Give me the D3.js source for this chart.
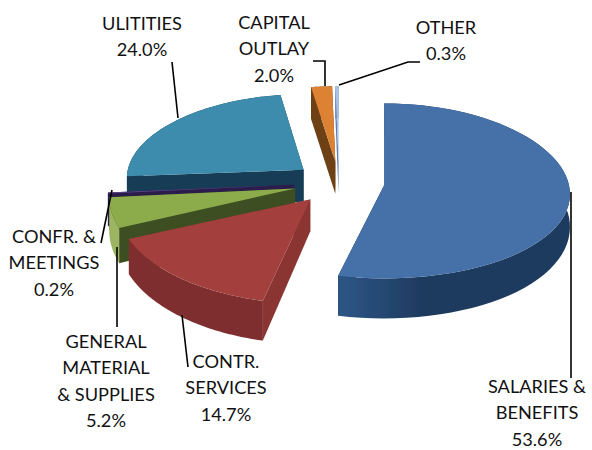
<!DOCTYPE html>
<html lang="en">
<head>
  <meta charset="UTF-8">
  <title>Budget pie</title>
  <style>
    html, body { margin: 0; padding: 0; background: #fff; }
    text { font-family: Lato, "Open Sans", sans-serif; font-size: 18.2px; fill: #111; text-anchor: middle; }
  </style>
</head>
<body>
  <script src="https://cdn.jsdelivr.net/npm/d3@7/dist/d3.min.js"></script>
  <script>
    // values, clockwise from 12 o'clock
    const categories = ['SALARIES & BENEFITS', 'CONTR. SERVICES', 'GENERAL MATERIAL & SUPPLIES', 'CONFR. & MEETINGS', 'ULITITIES', 'CAPITAL OUTLAY', 'OTHER'];
    const values = [53.6, 14.7, 5.2, 0.2, 24.0, 2.0, 0.3];
    const valueLabels = ['53.6%', '14.7%', '5.2%', '0.2%', '24.0%', '2.0%', '0.3%'];
    const topColors = ['#4470a8', '#a33f3d', '#8cab4c', '#5f4388', '#3c8cad', '#dd8133', '#a9c1e2'];
    const wallColors = ['#1f3c62', '#7e2f2e', '#9cb563', '#2c1c4c', '#163d54', '#6d4019', '#5f7fae'];
    const cutColors = ['#16304f', '#8a3533', '#3d5020', '#2c1c4c', '#163d54', '#6d4019', '#5f7fae'];

    const width = 592, height = 450;
    const cx = 339, cy = 183;      // centre before explosion
    const rx = 185, ryFar = 82;    // ellipse radius sideways, and towards the back
    const perspX = 0.1;            // pushes the widest point below the apex
    const perspY = [0.063, 0.12, 0.12, 0.12, 0.063, 0.063, 0.063]; // near side bigger, per slice
    const scaleX = [1, 1.03, 1, 1, 0.95, 1, 1];
    const scaleY = [1, 1, 1, 1, 0.92, 0.92, 0.92]; // back slices come out flatter
    const explode = 0.245;
    const depthSide = 32, depthFront = 40;

    // wrapped text of each label + where it sits
    const labelLines = [
      { i: 0, x: 537, y: 393, lines: ['SALARIES &', 'BENEFITS'] },
      { i: 1, x: 226, y: 368, lines: ['CONTR.', 'SERVICES'] },
      { i: 2, x: 106, y: 348, lines: ['GENERAL', 'MATERIAL', '& SUPPLIES'] },
      { i: 3, x: 54, y: 243, lines: ['CONFR. &', 'MEETINGS'] },
      { i: 4, x: 142, y: 30, lines: ['ULITITIES'] },
      { i: 5, x: 274, y: 29, lines: ['CAPITAL', 'OUTLAY'] },
      { i: 6, x: 446, y: 34, lines: ['OTHER'] }
    ];
    const leaders = [
      [[571, 192], [571, 378]],
      [[182, 315], [188, 367]],
      [[117, 247], [117, 327]],
      [[112, 190], [101, 243]],
      [[172, 62], [178, 118]],
      [[313, 61], [325, 61], [325, 86]],
      [[420, 62], [408, 62], [339, 85]]
    ];

    const svg = d3.select('body').append('svg').attr('width', width).attr('height', height);
    const defs = svg.append('defs');
    defs.append('filter').attr('id', 'soft').append('feGaussianBlur').attr('stdDeviation', 0.45);

    const blueWall = defs.append('linearGradient').attr('id', 'blue-wall')
      .attr('gradientUnits', 'userSpaceOnUse').attr('x1', 346).attr('x2', 570).attr('y1', 0).attr('y2', 0);
    blueWall.append('stop').attr('offset', 0).attr('stop-color', '#2c5483');
    blueWall.append('stop').attr('offset', 0.35).attr('stop-color', '#1e3a5e');
    blueWall.append('stop').attr('offset', 1).attr('stop-color', '#1d3a5f');

    const pieData = d3.pie().sort(null)(values);
    const line = d3.line();

    // unit circle -> screen, angle clockwise from top
    function project(a, apex, i) {
      const u = Math.sin(a), v = Math.cos(a);
      const ky = perspY[i];
      const ry = ryFar * (1 + ky);
      return [
        apex[0] + scaleX[i] * rx * u / (1 + perspX * v),
        apex[1] - scaleY[i] * ry * v / (1 + ky * v)
      ];
    }
    // wall gets taller towards the viewer
    const wallDepth = a => depthSide + (depthFront - depthSide) * Math.max(0, -Math.cos(a));

    const pie = svg.append('g').attr('filter', 'url(#soft)');
    const drawOrder = [4, 3, 2, 1, 5, 6, 0]; // back to front

    drawOrder.forEach(i => {
      const d = pieData[i];
      const mid = (d.startAngle + d.endAngle) / 2;
      const apex = [cx + explode * rx * Math.sin(mid), cy - explode * 87 * Math.cos(mid)];
      const steps = d3.range(0, 61).map(t => d.startAngle + (d.endAngle - d.startAngle) * t / 60);
      const rim = steps.map(a => project(a, apex, i));
      const rimLow = steps.map((a, j) => [rim[j][0], rim[j][1] + wallDepth(a)]);
      const apexLow = [apex[0], apex[1] + depthSide];
      const g = pie.append('g').attr('class', 'slice');

      // two cut faces
      [0, rim.length - 1].forEach(j => {
        g.append('path')
          .attr('d', line([apex, rim[j], rimLow[j], apexLow]) + 'Z')
          .attr('fill', cutColors[i]);
      });
      // outer wall
      g.append('path')
        .attr('d', line(rim.concat(rimLow.slice().reverse())) + 'Z')
        .attr('fill', i === 0 ? 'url(#blue-wall)' : wallColors[i]);
      // top
      g.append('path')
        .attr('d', line([apex].concat(rim)) + 'Z')
        .attr('fill', topColors[i]);
    });

    svg.append('g').selectAll('path').data(leaders).enter().append('path')
      .attr('d', d => line(d))
      .attr('fill', 'none')
      .attr('stroke', '#000')
      .attr('stroke-width', 1.6);

    const labels = svg.append('g').selectAll('text').data(labelLines).enter().append('text')
      .attr('x', d => d.x)
      .attr('y', d => d.y);
    labels.selectAll('tspan').data(d => d.lines.concat(valueLabels[d.i]).map(t => ({ t, x: d.x })))
      .enter().append('tspan')
      .attr('x', d => d.x)
      .attr('dy', (d, j) => j ? 26.3 : 0)
      .text(d => d.t);
  </script>
</body>
</html>
